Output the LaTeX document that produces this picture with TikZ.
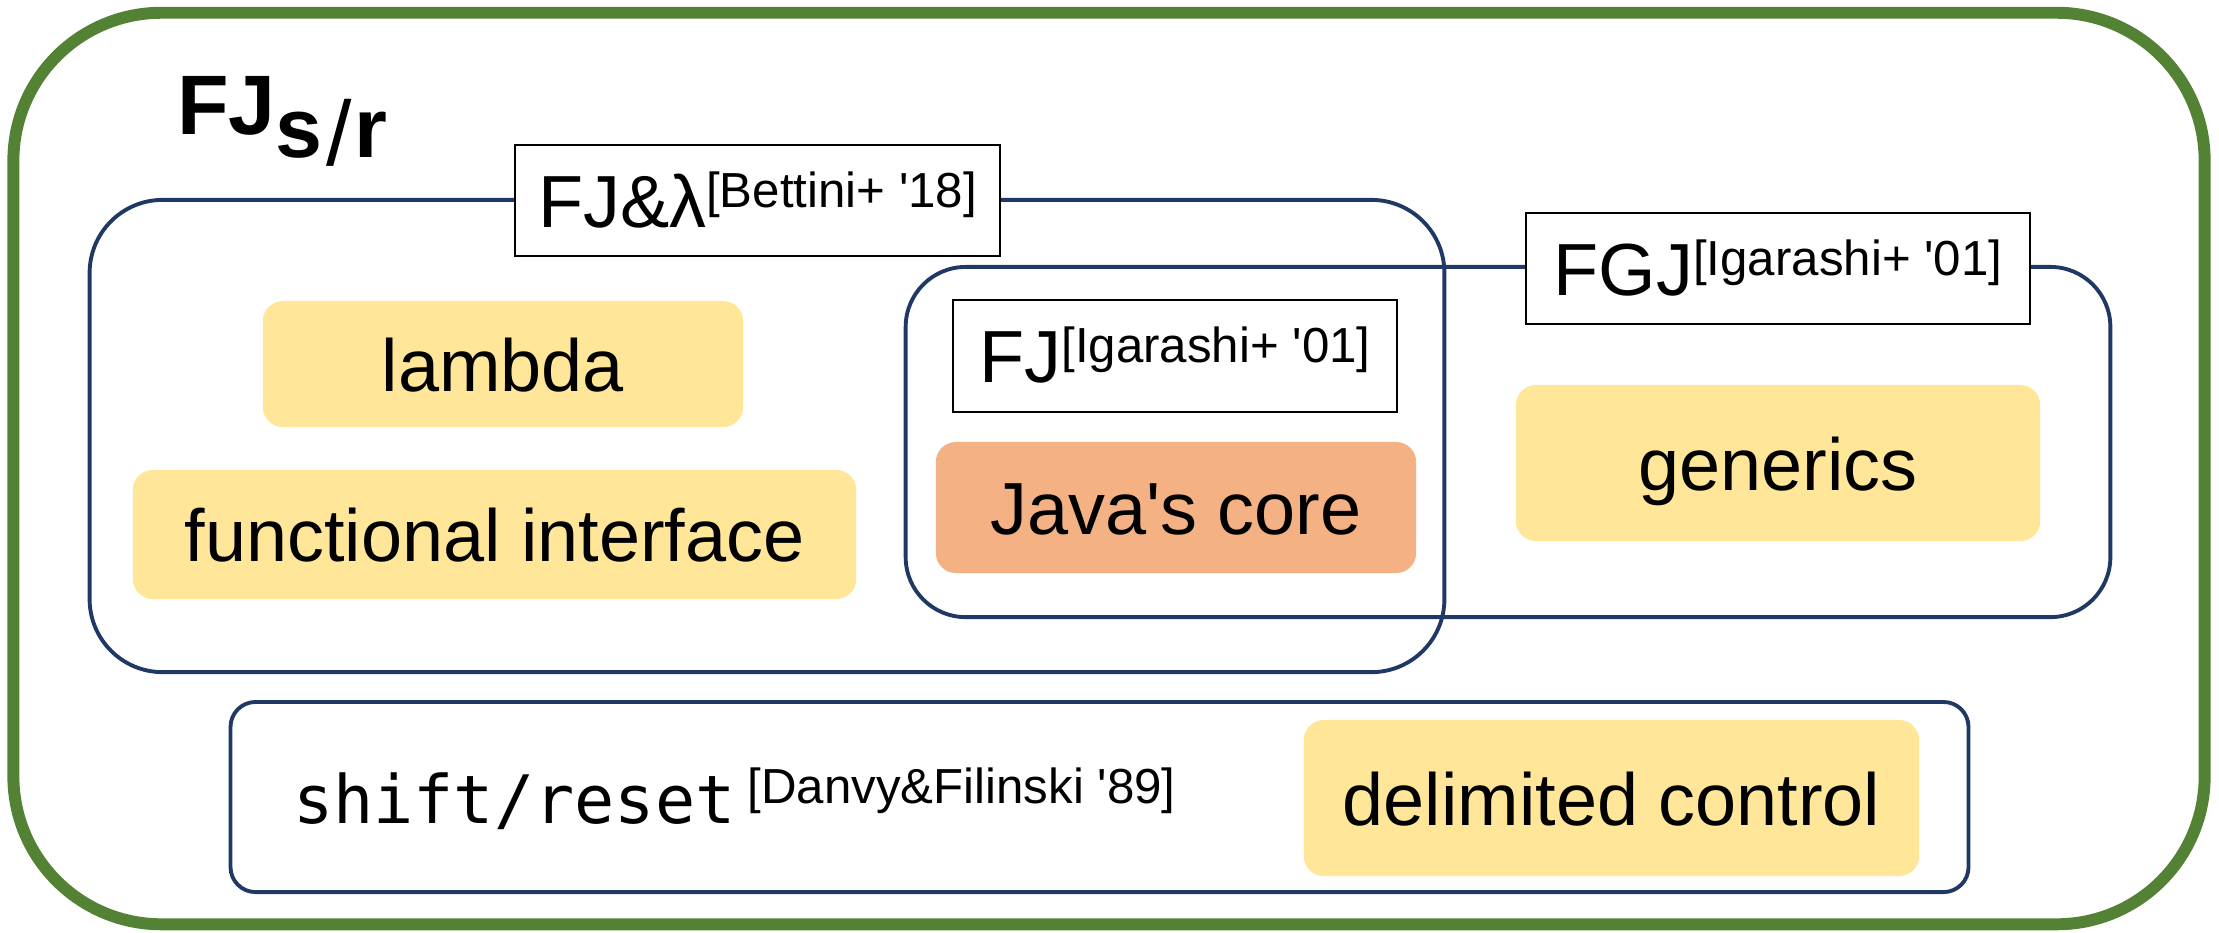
\documentclass[tikz,border=0pt]{standalone}
\usepackage{fontspec}
\setmainfont{Liberation Sans}
\setmonofont{DejaVu Sans Mono}
\usetikzlibrary{positioning}
\definecolor{navy}{RGB}{31,56,100}
\definecolor{leaf}{RGB}{84,130,53}
\definecolor{feat}{RGB}{255,230,153}
\definecolor{core}{RGB}{244,177,131}
\newcommand{\bigtxt}{\fontsize{21}{25}\selectfont}
\newcommand{\reftxt}[1]{\raisebox{0.2cm}{\normalfont\fontsize{14}{16}\selectfont[#1]}}
\tikzset{
  every picture/.style={line width=0.6pt},
  langbox/.style={draw=leaf,line width=3.4pt,rounded corners=1.48cm,inner sep=0},
  region/.style={draw=navy,line width=1.1pt,rounded corners=0.73cm,inner sep=0},
  tagbox/.style={draw=black,fill=white,line width=0.57pt,inner sep=0,text height=0.82cm,text depth=0.29cm,minimum height=1.11cm,font=\bigtxt},
  featbox/.style={fill=feat,rounded corners=0.2cm,inner sep=0,text height=0.6cm,text depth=0.06cm,font=\bigtxt},
}

\begin{document}
\begin{tikzpicture}[x=0.01cm,y=-0.01cm]
\useasboundingbox (0,0) rectangle (2219,932);
% whole calculus
\node[langbox,minimum width=21.90cm,minimum height=9.11cm] (fjsr) at (1109,468.5) {};
\node[anchor=base west,inner sep=0,font=\fontsize{24}{28}\selectfont\bfseries] (title) at (176,134)
  {FJ\raisebox{-0.23cm}{s\kern0.04cm\raisebox{-0.08cm}{\mdseries\fontsize{26}{28}\selectfont/}\kern0.03cm r}};
% FJ&lambda, FGJ and shift/reset regions
\node[region,minimum width=13.54cm,minimum height=4.72cm] (fjlam) at (767,436) {};
\node[region,rounded corners=0.6cm,minimum width=12.04cm,minimum height=3.5cm] (fgj) at (1508,442) {};
\node[region,rounded corners=0.25cm,minimum width=17.37cm,minimum height=1.9cm] (sr) at (1099.5,797) {};
% region labels
\node[tagbox,minimum width=4.85cm] (fjlamtag) at (757.5,200.5) {FJ\&λ\reftxt{Bettini+ \textquotesingle18}};
\node[tagbox,minimum width=4.44cm] (fjtag) at (1175,356) {FJ\reftxt{Igarashi+ \textquotesingle01}};
\node[tagbox,minimum width=5.04cm] (fgjtag) at (1778,268.5) {FGJ\reftxt{Igarashi+ \textquotesingle01}};
% features
\node[featbox,minimum width=4.80cm,minimum height=1.26cm] (lam) at (503,364) {lambda};
\node[featbox,minimum width=7.23cm,minimum height=1.29cm] (fint) at (494.5,534.5) {functional interface};
\node[featbox,fill=core,minimum width=4.80cm,minimum height=1.31cm] (jcore) at (1176,507.5) {Java\textquotesingle s core};
\node[featbox,minimum width=5.24cm,minimum height=1.56cm] (gen) at (1778,463) {generics};
\node[featbox,minimum width=6.15cm,minimum height=1.56cm] (dctl) at (1611.5,798) {delimited control};
\node[anchor=base west,inner sep=0,font=\fontsize{19}{22}\selectfont\ttfamily] (srtxt) at (292,823)
  {shift/reset\hspace{0.12cm}\reftxt{Danvy\&Filinski \textquotesingle89}};
\end{tikzpicture}
\end{document}
